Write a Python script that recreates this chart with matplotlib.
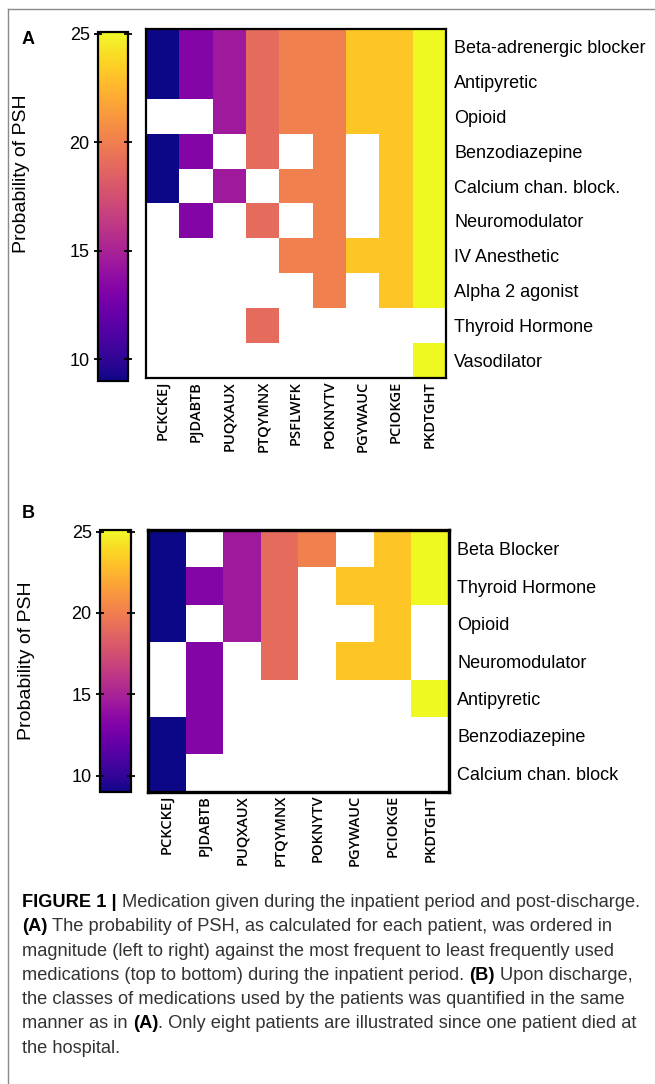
import numpy as np
import matplotlib
matplotlib.use("Agg")
import matplotlib.pyplot as plt
from matplotlib.cm import ScalarMappable
from matplotlib.colors import Normalize
from matplotlib.lines import Line2D

plt.rcParams['font.family'] = ['Liberation Sans', 'DejaVu Sans']

# --- data -------------------------------------------------------------
patients_a = ["PCKCKEJ", "PJDABTB", "PUQXAUX", "PTQYMNX", "PSFLWFK",
              "POKNYTV", "PGYWAUC", "PCIOKGE", "PKDTGHT"]
psh_a = [9.0, 13.3, 14.5, 19.0, 20.1, 20.1, 23.2, 23.2, 25.1]
meds_a = ["Beta-adrenergic blocker", "Antipyretic", "Opioid", "Benzodiazepine",
          "Calcium chan. block.", "Neuromodulator", "IV Anesthetic",
          "Alpha 2 agonist", "Thyroid Hormone", "Vasodilator"]
used_a = [
    [1, 1, 1, 1, 1, 1, 1, 1, 1],
    [1, 1, 1, 1, 1, 1, 1, 1, 1],
    [0, 0, 1, 1, 1, 1, 1, 1, 1],
    [1, 1, 0, 1, 0, 1, 0, 1, 1],
    [1, 0, 1, 0, 1, 1, 0, 1, 1],
    [0, 1, 0, 1, 0, 1, 0, 1, 1],
    [0, 0, 0, 0, 1, 1, 1, 1, 1],
    [0, 0, 0, 0, 0, 1, 0, 1, 1],
    [0, 0, 0, 1, 0, 0, 0, 0, 0],
    [0, 0, 0, 0, 0, 0, 0, 0, 1],
]

patients_b = ["PCKCKEJ", "PJDABTB", "PUQXAUX", "PTQYMNX", "POKNYTV",
              "PGYWAUC", "PCIOKGE", "PKDTGHT"]
psh_b = [9.0, 13.3, 14.5, 19.0, 20.1, 23.2, 23.2, 25.1]
meds_b = ["Beta Blocker", "Thyroid Hormone", "Opioid", "Neuromodulator",
          "Antipyretic", "Benzodiazepine", "Calcium chan. block"]
used_b = [
    [1, 0, 1, 1, 1, 0, 1, 1],
    [1, 1, 1, 1, 0, 1, 1, 1],
    [1, 0, 1, 1, 0, 0, 1, 0],
    [0, 1, 0, 1, 0, 1, 1, 0],
    [0, 1, 0, 0, 0, 0, 0, 1],
    [1, 1, 0, 0, 0, 0, 0, 0],
    [1, 0, 0, 0, 0, 0, 0, 0],
]

cbar_ticks = [10, 15, 20, 25]
vmin, vmax = 9.0, 25.1

W, H = 655, 1084
fig = plt.figure(figsize=(W / 100, H / 100), dpi=100)


def box(x0, y0, x1, y1):
    # pixel box (top-left origin) -> figure fraction rect
    return [x0 / W, 1 - y1 / H, (x1 - x0) / W, (y1 - y0) / H]


norm = Normalize(vmin=vmin, vmax=vmax)
cmap = plt.get_cmap("plasma")


def heatmap(ax, used, psh, patients, meds, spine_w):
    used = np.array(used)
    vals = np.ma.masked_where(used == 0, used * np.array(psh)[None, :])
    ax.imshow(vals, cmap=cmap, norm=norm, aspect="auto", interpolation="nearest")
    ax.set_xticks(range(len(patients)))
    ax.set_xticklabels(patients, rotation=90, fontsize=10.5,
                       family=['Open Sans', 'DejaVu Sans'], fontweight='semibold')
    ax.set_yticks(range(len(meds)))
    ax.set_yticklabels(meds, fontsize=13)
    ax.yaxis.tick_right()
    ax.tick_params(axis="x", length=0, pad=2)
    ax.tick_params(axis="y", length=0, pad=6)
    for s in ax.spines.values():
        s.set_linewidth(spine_w)


def colorbar(cax, label_y, label_x):
    cb = fig.colorbar(ScalarMappable(norm=norm, cmap=cmap), cax=cax)
    cb.set_ticks(cbar_ticks)
    cb.outline.set_linewidth(1.6)
    cax.yaxis.set_ticks_position("both")
    cax.tick_params(axis="y", left=True, right=True, labelleft=True,
                    labelright=False, direction="inout", length=6, width=1.3,
                    labelsize=13, pad=3)
    cax.set_ylabel("Probability of PSH", fontsize=14)
    cax.yaxis.set_label_position("left")
    cax.yaxis.set_label_coords(label_x, label_y)


# panel A
ax_a = fig.add_axes(box(146, 29, 446, 378))
heatmap(ax_a, used_a, psh_a, patients_a, meds_a, 1.6)
cax_a = fig.add_axes(box(98, 31.7, 128, 381))
colorbar(cax_a, 0.593, -2.25)

# panel B
ax_b = fig.add_axes(box(148, 530, 449, 792))
heatmap(ax_b, used_b, psh_b, patients_b, meds_b, 2.4)
cax_b = fig.add_axes(box(100, 530, 131, 792))
colorbar(cax_b, 0.5, -2.1)

fig.text(22 / W, 1 - 40 / H, "A", fontsize=13, fontweight="bold", va="center")
fig.text(22 / W, 1 - 513 / H, "B", fontsize=13, fontweight="bold", va="center")

# frame lines at left and top
fig.add_artist(Line2D([8 / W, 8 / W], [0, 1 - 8.5 / H], color="#8a8a8a", lw=1.0))
fig.add_artist(Line2D([8 / W, 1], [1 - 8.5 / H, 1 - 8.5 / H], color="#8a8a8a", lw=1.0))

# caption, written as runs of regular and bold text
cap_font = ['Liberation Sans', 'DejaVu Sans']
cap_size = 13.15
cap_color = "#333333"
caption = [
    [("FIGURE 1 | ", True), ("Medication given during the inpatient period and post-discharge.", False)],
    [("(A)", True), (" The probability of PSH, as calculated for each patient, was ordered in", False)],
    [("magnitude (left to right) against the most frequent to least frequently used", False)],
    [("medications (top to bottom) during the inpatient period. ", False), ("(B)", True),
     (" Upon discharge,", False)],
    [("the classes of medications used by the patients was quantified in the same", False)],
    [("manner as in ", False), ("(A)", True),
     (". Only eight patients are illustrated since one patient died at", False)],
    [("the hospital.", False)],
]

renderer = fig.canvas.get_renderer()


def text_width(s, bold):
    t = fig.text(0, 0, s, fontsize=cap_size, family=cap_font,
                 fontweight="bold" if bold else "normal")
    w = t.get_window_extent(renderer).width
    t.remove()
    return w


space_w = text_width("a a", False) - text_width("aa", False)

y = 907
for line in caption:
    x = 22.0
    for s, bold in line:
        lead = len(s) - len(s.lstrip(" "))
        trail = len(s) - len(s.rstrip(" "))
        core = s.strip(" ")
        x += lead * space_w
        fig.text(x / W, 1 - y / H, core, fontsize=cap_size, family=cap_font,
                 fontweight="bold" if bold else "normal",
                 color="black" if bold else cap_color, va="baseline")
        x += text_width(core, bold) + trail * space_w
    y += 24.3

fig.savefig("out.png", dpi=100)
